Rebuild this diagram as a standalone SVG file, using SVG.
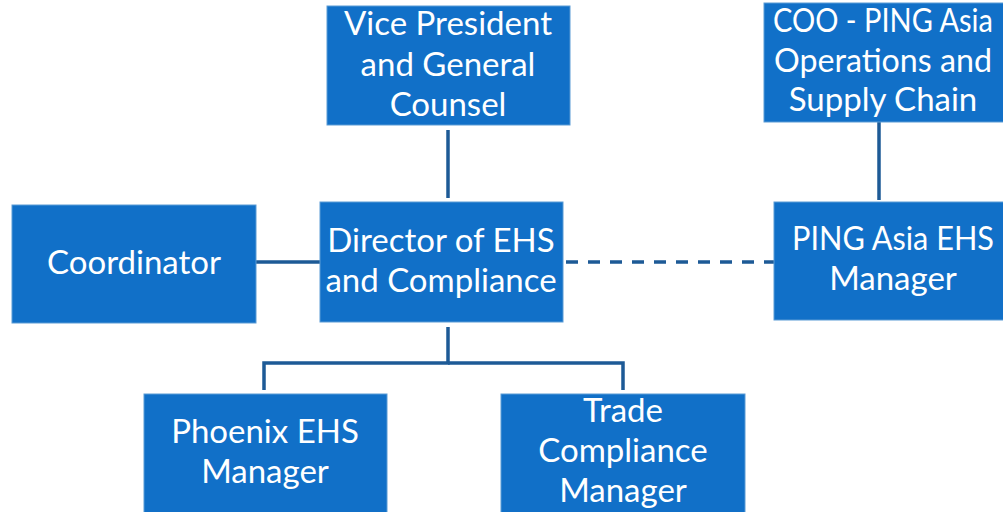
<svg xmlns="http://www.w3.org/2000/svg" width="1003" height="512" viewBox="0 0 1003 512">
<style>
.box{fill:#1170C8;stroke:#5B9BD5;stroke-width:1}
.t{fill:#FFFFFF;font-family:Lato,"Open Sans","Liberation Sans",sans-serif;font-size:33px;text-anchor:middle}
.ln{stroke:#1D5A96;stroke-width:3.5;fill:none}
.dash{stroke:#1D5A96;stroke-width:3.5;fill:none;stroke-dasharray:12 10}
</style>
<rect width="1003" height="512" fill="#FFFFFF"/>
<g id="connectors">
<line class="ln" x1="448" y1="130" x2="448" y2="198"/>
<line class="ln" x1="879" y1="122" x2="879" y2="200"/>
<line class="ln" x1="256" y1="262" x2="320" y2="262"/>
<line class="dash" x1="566" y1="262" x2="774" y2="262"/>
<polyline class="ln" points="448,327 448,363 264,363 264,390"/>
<polyline class="ln" points="448,363 623,363 623,390"/>
</g>
<g id="vp">
<rect class="box" x="327" y="6" width="243" height="119"/>
<text class="t" x="448" y="35">Vice President</text>
<text class="t" x="448" y="76">and General</text>
<text class="t" x="448" y="116">Counsel</text>
</g>
<g id="coo">
<rect class="box" x="764" y="3" width="243" height="119"/>
<text class="t" x="883" y="32" textLength="220" lengthAdjust="spacingAndGlyphs">COO - PING Asia</text>
<text class="t" x="883" y="72" textLength="218" lengthAdjust="spacingAndGlyphs">Operations and</text>
<text class="t" x="883" y="111">Supply Chain</text>
</g>
<g id="coordinator">
<rect class="box" x="12" y="205" width="244" height="118"/>
<text class="t" x="134" y="274">Coordinator</text>
</g>
<g id="director">
<rect class="box" x="320" y="202" width="243" height="120"/>
<text class="t" x="441" y="252">Director of EHS</text>
<text class="t" x="441" y="292">and Compliance</text>
</g>
<g id="pingasia">
<rect class="box" x="774" y="202" width="243" height="118"/>
<text class="t" x="893" y="250" textLength="202" lengthAdjust="spacingAndGlyphs">PING Asia EHS</text>
<text class="t" x="893" y="290">Manager</text>
</g>
<g id="phoenix">
<rect class="box" x="144" y="394" width="243" height="125"/>
<text class="t" x="265" y="443">Phoenix EHS</text>
<text class="t" x="265" y="483">Manager</text>
</g>
<g id="trade">
<rect class="box" x="501" y="394" width="244" height="125"/>
<text class="t" x="623" y="422">Trade</text>
<text class="t" x="623" y="462">Compliance</text>
<text class="t" x="623" y="502">Manager</text>
</g>
</svg>
